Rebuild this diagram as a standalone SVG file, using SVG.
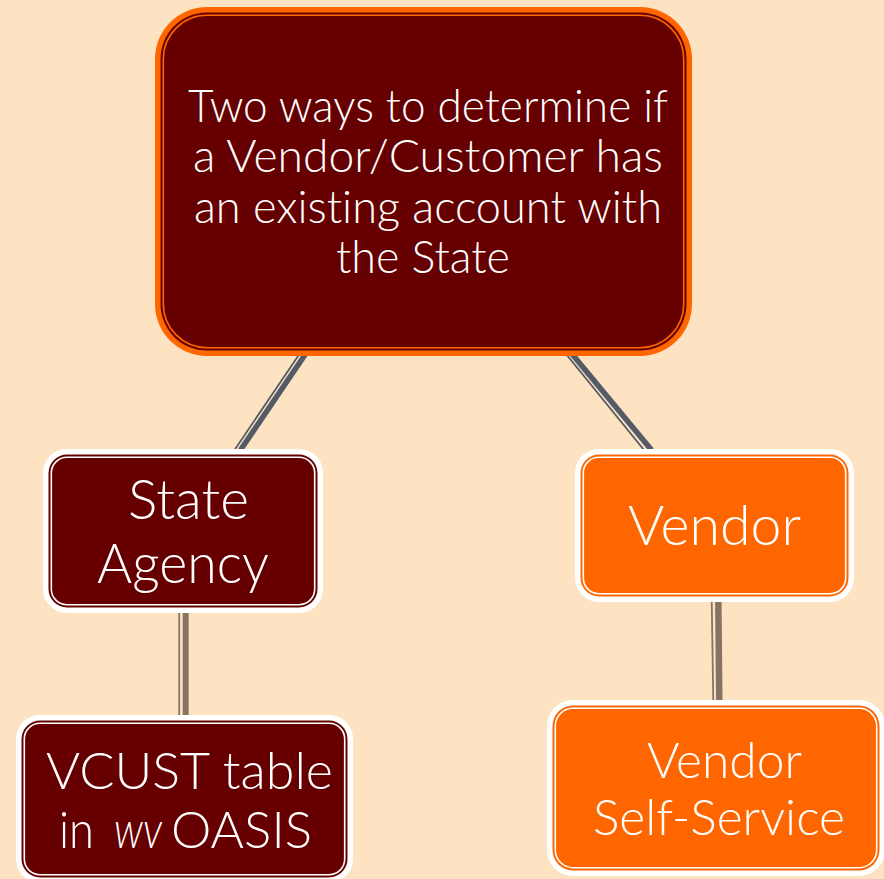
<svg xmlns="http://www.w3.org/2000/svg" width="884" height="879" viewBox="0 0 884 879">
<style>
.bg{fill:#fee3c3}
.t{font-family:Lato,"Open Sans","Liberation Sans",sans-serif;font-weight:300;fill:#ffffff;font-variant-ligatures:none}
.dk{stroke:#545b66;fill:none}
.br{stroke:#857463;fill:none}
.wb{fill:#ffffff}
.ob{fill:#ff6600}
.dfill{fill:#660000}
.ofill{fill:#ff6600}
.wl{fill:none;stroke:#ffffff;stroke-width:1.6}
.ol{fill:none;stroke:#ff6600;stroke-width:1.6}
</style>
<rect class="bg" x="0" y="0" width="884" height="879"/>
<g id="connectors">
  <line class="dk" x1="305.5" y1="354" x2="240.5" y2="450" stroke-width="5.5"/>
  <line class="dk" x1="299.5" y1="354" x2="234.5" y2="450" stroke-width="1.8"/>
  <line class="dk" x1="572" y1="354" x2="651.5" y2="450" stroke-width="5.5"/>
  <line class="dk" x1="566" y1="354" x2="644" y2="450" stroke-width="1.8"/>
  <line class="br" x1="185.7" y1="611" x2="185.7" y2="717" stroke-width="6"/>
  <line class="br" x1="179.2" y1="611" x2="179.2" y2="717" stroke-width="1.8"/>
  <line class="br" x1="718.3" y1="600" x2="719.3" y2="702" stroke-width="6.5"/>
  <line class="br" x1="711.7" y1="600" x2="713.3" y2="702" stroke-width="1.8"/>
</g>
<g id="node-top">
  <rect class="ob" x="155" y="7" width="537" height="349" rx="52"/>
  <rect class="dfill" x="160.5" y="12.5" width="526" height="338" rx="46.5"/>
  <rect class="ol" x="163.3" y="15.3" width="520.4" height="332.4" rx="43.7"/>
  <text class="t" font-size="46" x="188" y="122" textLength="480" lengthAdjust="spacingAndGlyphs">Two ways to determine if</text>
  <text class="t" font-size="46" x="193" y="172" textLength="470" lengthAdjust="spacingAndGlyphs">a Vendor/Customer has</text>
  <text class="t" font-size="46" x="194" y="223" textLength="468" lengthAdjust="spacingAndGlyphs">an existing account with</text>
  <text class="t" font-size="46" x="336" y="273" textLength="174" lengthAdjust="spacingAndGlyphs">the State</text>
</g>
<g id="node-state-agency">
  <rect class="wb" x="43" y="449" width="280" height="164" rx="24"/>
  <rect class="dfill" x="48.5" y="454.5" width="269" height="153" rx="18.5"/>
  <rect class="wl" x="51.3" y="457.3" width="263.4" height="147.4" rx="15.7"/>
  <text class="t" font-size="55" x="128" y="519" textLength="121" lengthAdjust="spacingAndGlyphs">State</text>
  <text class="t" font-size="55" x="97" y="583" textLength="172" lengthAdjust="spacingAndGlyphs">Agency</text>
</g>
<g id="node-vcust">
  <rect class="wb" x="16" y="715" width="337" height="168" rx="24"/>
  <rect class="dfill" x="21.5" y="720.5" width="326" height="157" rx="18.5"/>
  <rect class="wl" x="24.3" y="723.3" width="320.4" height="151.4" rx="15.7"/>
  <text class="t" font-size="52" x="46" y="789" textLength="287" lengthAdjust="spacingAndGlyphs">VCUST table</text>
  <text class="t" font-size="52" y="848"><tspan x="59" textLength="35" lengthAdjust="spacingAndGlyphs">in</tspan><tspan x="114" font-style="italic" textLength="48" lengthAdjust="spacingAndGlyphs">wv</tspan><tspan x="171" textLength="141" lengthAdjust="spacingAndGlyphs">OASIS</tspan></text>
</g>
<g id="node-vendor">
  <rect class="wb" x="575" y="449" width="279" height="153" rx="24"/>
  <rect class="ofill" x="580.5" y="454.5" width="268" height="142" rx="18.5"/>
  <rect class="wl" x="583.3" y="457.3" width="262.4" height="136.4" rx="15.7"/>
  <text class="t" font-size="55" x="628" y="545" textLength="173" lengthAdjust="spacingAndGlyphs">Vendor</text>
</g>
<g id="node-vss">
  <rect class="wb" x="547" y="700" width="338" height="176" rx="26"/>
  <rect class="ofill" x="552.5" y="705.5" width="327" height="165" rx="20.5"/>
  <rect class="wl" x="555.3" y="708.3" width="321.4" height="159.4" rx="17.7"/>
  <text class="t" font-size="49" x="647" y="778" textLength="155" lengthAdjust="spacingAndGlyphs">Vendor</text>
  <text class="t" font-size="49" x="593" y="835" textLength="252" lengthAdjust="spacingAndGlyphs">Self-Service</text>
</g>
</svg>
